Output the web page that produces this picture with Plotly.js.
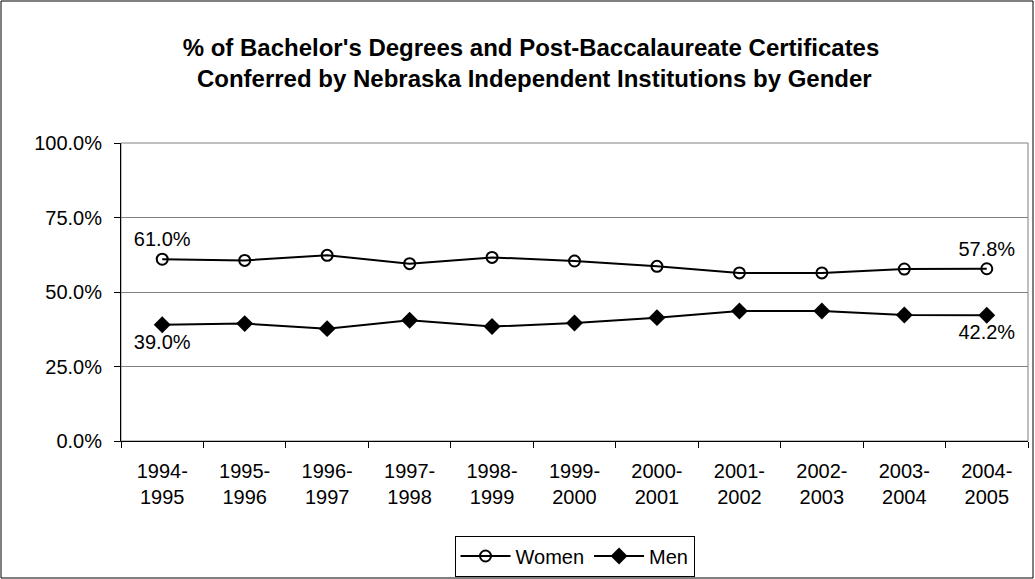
<!DOCTYPE html>
<html><head><meta charset="utf-8">
<script src="https://cdn.plot.ly/plotly-3.0.1.min.js"></script>
<style>html,body{margin:0;padding:0;background:#fff}#c{width:1035px;height:579px}</style>
</head><body><div id="c"></div>
<script>
const categories = ["1994-<br>1995","1995-<br>1996","1996-<br>1997","1997-<br>1998","1998-<br>1999","1999-<br>2000","2000-<br>2001","2001-<br>2002","2002-<br>2003","2003-<br>2004","2004-<br>2005"];
const women = [61.0, 60.6, 62.3, 59.5, 61.6, 60.4, 58.6, 56.4, 56.4, 57.7, 57.8];
const men = [39.0, 39.4, 37.7, 40.5, 38.4, 39.6, 41.4, 43.6, 43.6, 42.3, 42.2];
const yTicks = [0, 25, 50, 75, 100];

function labels(arr){ return arr.map((v,i)=> (i===0||i===arr.length-1) ? v.toFixed(1)+'%' : ''); }

const FAM = 'Liberation Sans, Arial, sans-serif';
const font = {family: FAM, size: 20, color: '#000'};
const W = 1035, H = 579, L = 121, R = 7, T = 143, B = 138;
const pw = W-L-R, ph = H-T-B;

const traces = [
  {x: categories, y: women, name: 'Women', type: 'scatter', mode: 'lines+markers+text',
   line: {color: '#000', width: 2},
   marker: {symbol: 'circle-open', size: 11, color: '#000', line: {width: 2, color: '#000'}},
   text: labels(women), textposition: 'top center', textfont: font, cliponaxis: false},
  {x: categories, y: men, name: 'Men', type: 'scatter', mode: 'lines+markers+text',
   line: {color: '#000', width: 2},
   marker: {symbol: 'diamond', size: 13, color: '#000'},
   text: labels(men), textposition: 'bottom center', textfont: font, cliponaxis: false}
];

const layout = {
  width: W, height: H,
  margin: {l: L, r: R, t: T, b: B, pad: 0},
  paper_bgcolor: '#fff', plot_bgcolor: '#fff',
  font: font,
  title: {text: "<b>% of Bachelor's Degrees and Post-Baccalaureate Certificates<br> Conferred by Nebraska Independent Institutions by Gender</b>",
          font: {family: FAM, size: 24, color: '#000'},
          x: 531/W, xref: 'container', xanchor: 'center', y: 1 - 56/H, yref: 'container', yanchor: 'middle'},
  xaxis: {type: 'category', tickson: 'boundaries', ticks: 'outside', ticklen: 6, tickcolor: '#000',
          showline: true, linecolor: '#000', linewidth: 1, showgrid: false, zeroline: false,
          tickfont: font, fixedrange: true, range: [-0.5, 10.5], ticklabelstandoff: 12},
  yaxis: {range: [0, 100], tickvals: yTicks, ticktext: yTicks.map(v=>v.toFixed(1)+'%'),
          ticks: 'outside', ticklen: 6, tickcolor: '#000', showline: true, linecolor: '#000', linewidth: 1,
          showgrid: true, gridcolor: '#808080', gridwidth: 1, zeroline: false, tickfont: font, fixedrange: true,
          ticklabelstandoff: 8},
  showlegend: true,
  legend: {orientation: 'h', x: 0.5, xanchor: 'center', xref: 'paper', y: (H-556)/H, yref: 'container', yanchor: 'middle',
           bordercolor: '#000', borderwidth: 1, bgcolor: '#fff', font: font, tracegroupgap: 0, itemwidth: 50},
  shapes: [
    {type: 'rect', xref: 'paper', yref: 'paper', x0: 0, x1: 1, y0: 0, y1: 1, line: {color: '#808080', width: 1}, layer: 'below'},
    {type: 'rect', xref: 'paper', yref: 'paper', x0: (1-L)/pw, x1: (W-2-L)/pw, y0: -(B-1)/ph, y1: (ph+T-1)/ph,
     line: {color: '#000', width: 1}, fillcolor: 'rgba(0,0,0,0)', layer: 'below'}
  ]
};

Plotly.newPlot('c', traces, layout, {displayModeBar: false, staticPlot: true});
</script></body></html>
